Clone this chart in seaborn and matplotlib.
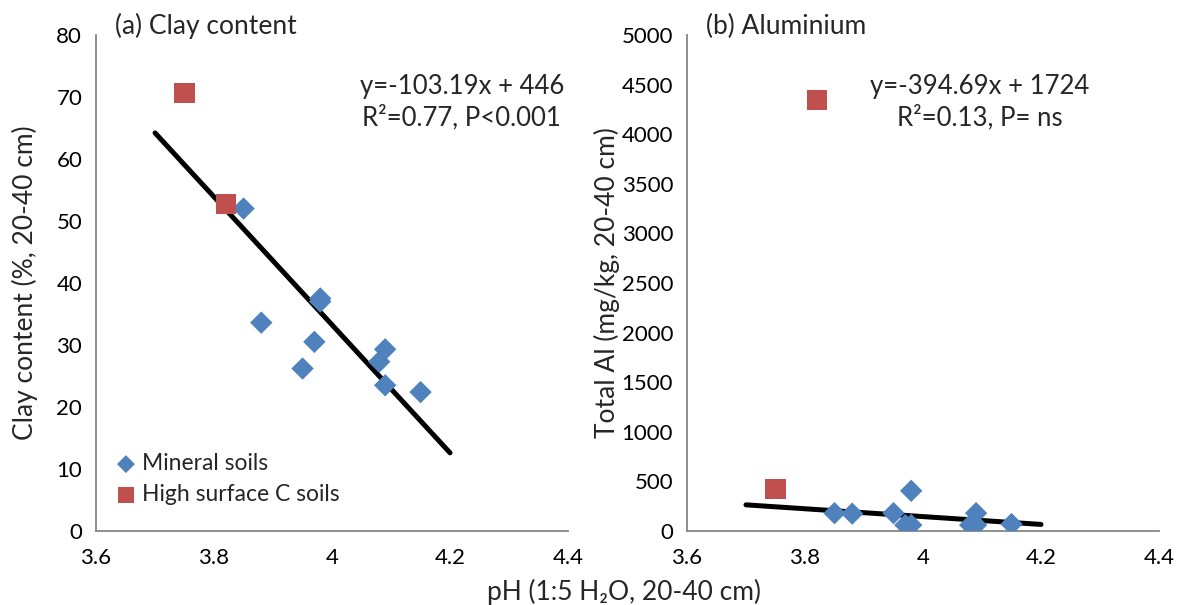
import matplotlib
matplotlib.use("Agg")
import matplotlib.pyplot as plt
import numpy as np
import pandas as pd
import seaborn as sns

# pH values (1:5 H2O, 20-40 cm)
ph_mineral = [3.85, 3.88, 3.95, 3.97, 3.98, 3.98, 4.08, 4.09, 4.09, 4.15]
ph_highc = [3.75, 3.82]

# (a) clay content (%)
clay_mineral = [52.0, 33.6, 26.2, 30.5, 37.0, 37.5, 27.3, 29.3, 23.5, 22.4]
clay_highc = [70.6, 52.8]

# (b) total Al (mg/kg)
al_mineral = [180, 175, 180, 60, 405, 60, 60, 180, 60, 70]
al_highc = [420, 4340]

# trendlines as given on the chart
fit_range = [3.7, 4.2]
clay_fit = (-103.19, 446)
al_fit = (-394.69, 1724)

groups = ["Mineral soils", "High surface C soils"]

df = pd.DataFrame({
    "ph": ph_mineral + ph_highc,
    "clay": clay_mineral + clay_highc,
    "al": al_mineral + al_highc,
    "group": [groups[0]] * len(ph_mineral) + [groups[1]] * len(ph_highc),
})

sns.set_style("white")
plt.rcParams["font.family"] = ["Lato", "DejaVu Sans"]

fig = plt.figure(figsize=(11.8, 6.05), dpi=100)
ax1 = fig.add_axes([0.0814, 0.1223, 0.4, 0.82])
ax2 = fig.add_axes([0.5822, 0.1223, 0.4, 0.82])

palette = {groups[0]: "#4F81BD", groups[1]: "#C0504D"}
markers = {groups[0]: "D", groups[1]: "s"}
sizes = {groups[0]: 130, groups[1]: 210}

def draw(ax, col, fit, ylim, yticks, ylabel, ypad, title, eq, eq_x, legend):
    fx = np.array(fit_range)
    line = pd.DataFrame({"x": fx, "y": fit[0] * fx + fit[1]})
    for g in groups:
        sub = df[df["group"] == g]
        sns.scatterplot(data=sub, x="ph", y=col, color=palette[g], marker=markers[g],
                        s=sizes[g], edgecolor="none", ax=ax, label=g, zorder=3)
    sns.lineplot(data=line, x="x", y="y", color="black", linewidth=3.6, ax=ax,
                 zorder=2, legend=False)
    ax.set_xlim(3.6, 4.4)
    ax.set_xticks([3.6, 3.8, 4.0, 4.2, 4.4])
    ax.set_xticklabels(["3.6", "3.8", "4", "4.2", "4.4"])
    ax.set_ylim(*ylim)
    ax.set_yticks(yticks)
    ax.set_xlabel("")
    ax.set_ylabel(ylabel, fontsize=19, labelpad=ypad)
    for s in ["top", "right"]:
        ax.spines[s].set_visible(False)
    for s in ["left", "bottom"]:
        ax.spines[s].set_color("#868686")
        ax.spines[s].set_linewidth(1.3)
    ax.tick_params(axis="both", direction="out", length=5, width=1.3, color="#868686",
                   labelsize=16, labelcolor="black", pad=5)
    ax.tick_params(axis="x", pad=7)
    ax.text(0.04, 1.018, title, transform=ax.transAxes, fontsize=19, va="center", ha="left")
    ax.text(eq_x, 0.895, eq[0], transform=ax.transAxes, fontsize=18.5, ha="center", va="center")
    ax.text(eq_x, 0.833, eq[1], transform=ax.transAxes, fontsize=18.5, ha="center", va="center")
    if legend:
        ax.legend(loc="lower left", bbox_to_anchor=(0.039, 0.052), frameon=False, fontsize=16.5,
                  handlelength=1.0, handletextpad=0.2, borderpad=0, borderaxespad=0,
                  labelspacing=0.44, markerscale=0.8)
    else:
        ax.get_legend().remove()

draw(ax1, "clay", clay_fit, (0, 80), range(0, 81, 10), "Clay content (%, 20-40 cm)", 13,
     "(a) Clay content", ("y=-103.19x + 446", "R²=0.77, P<0.001"), 0.775, True)
draw(ax2, "al", al_fit, (0, 5000), range(0, 5001, 500), "Total Al (mg/kg, 20-40 cm)", 1,
     "(b) Aluminium", ("y=-394.69x + 1724", "R²=0.13, P= ns"), 0.62, False)

fig.text(0.529, 0.021, "pH (1:5 H₂O, 20-40 cm)", ha="center", va="center", fontsize=19)

fig.savefig("out.png", dpi=100)
